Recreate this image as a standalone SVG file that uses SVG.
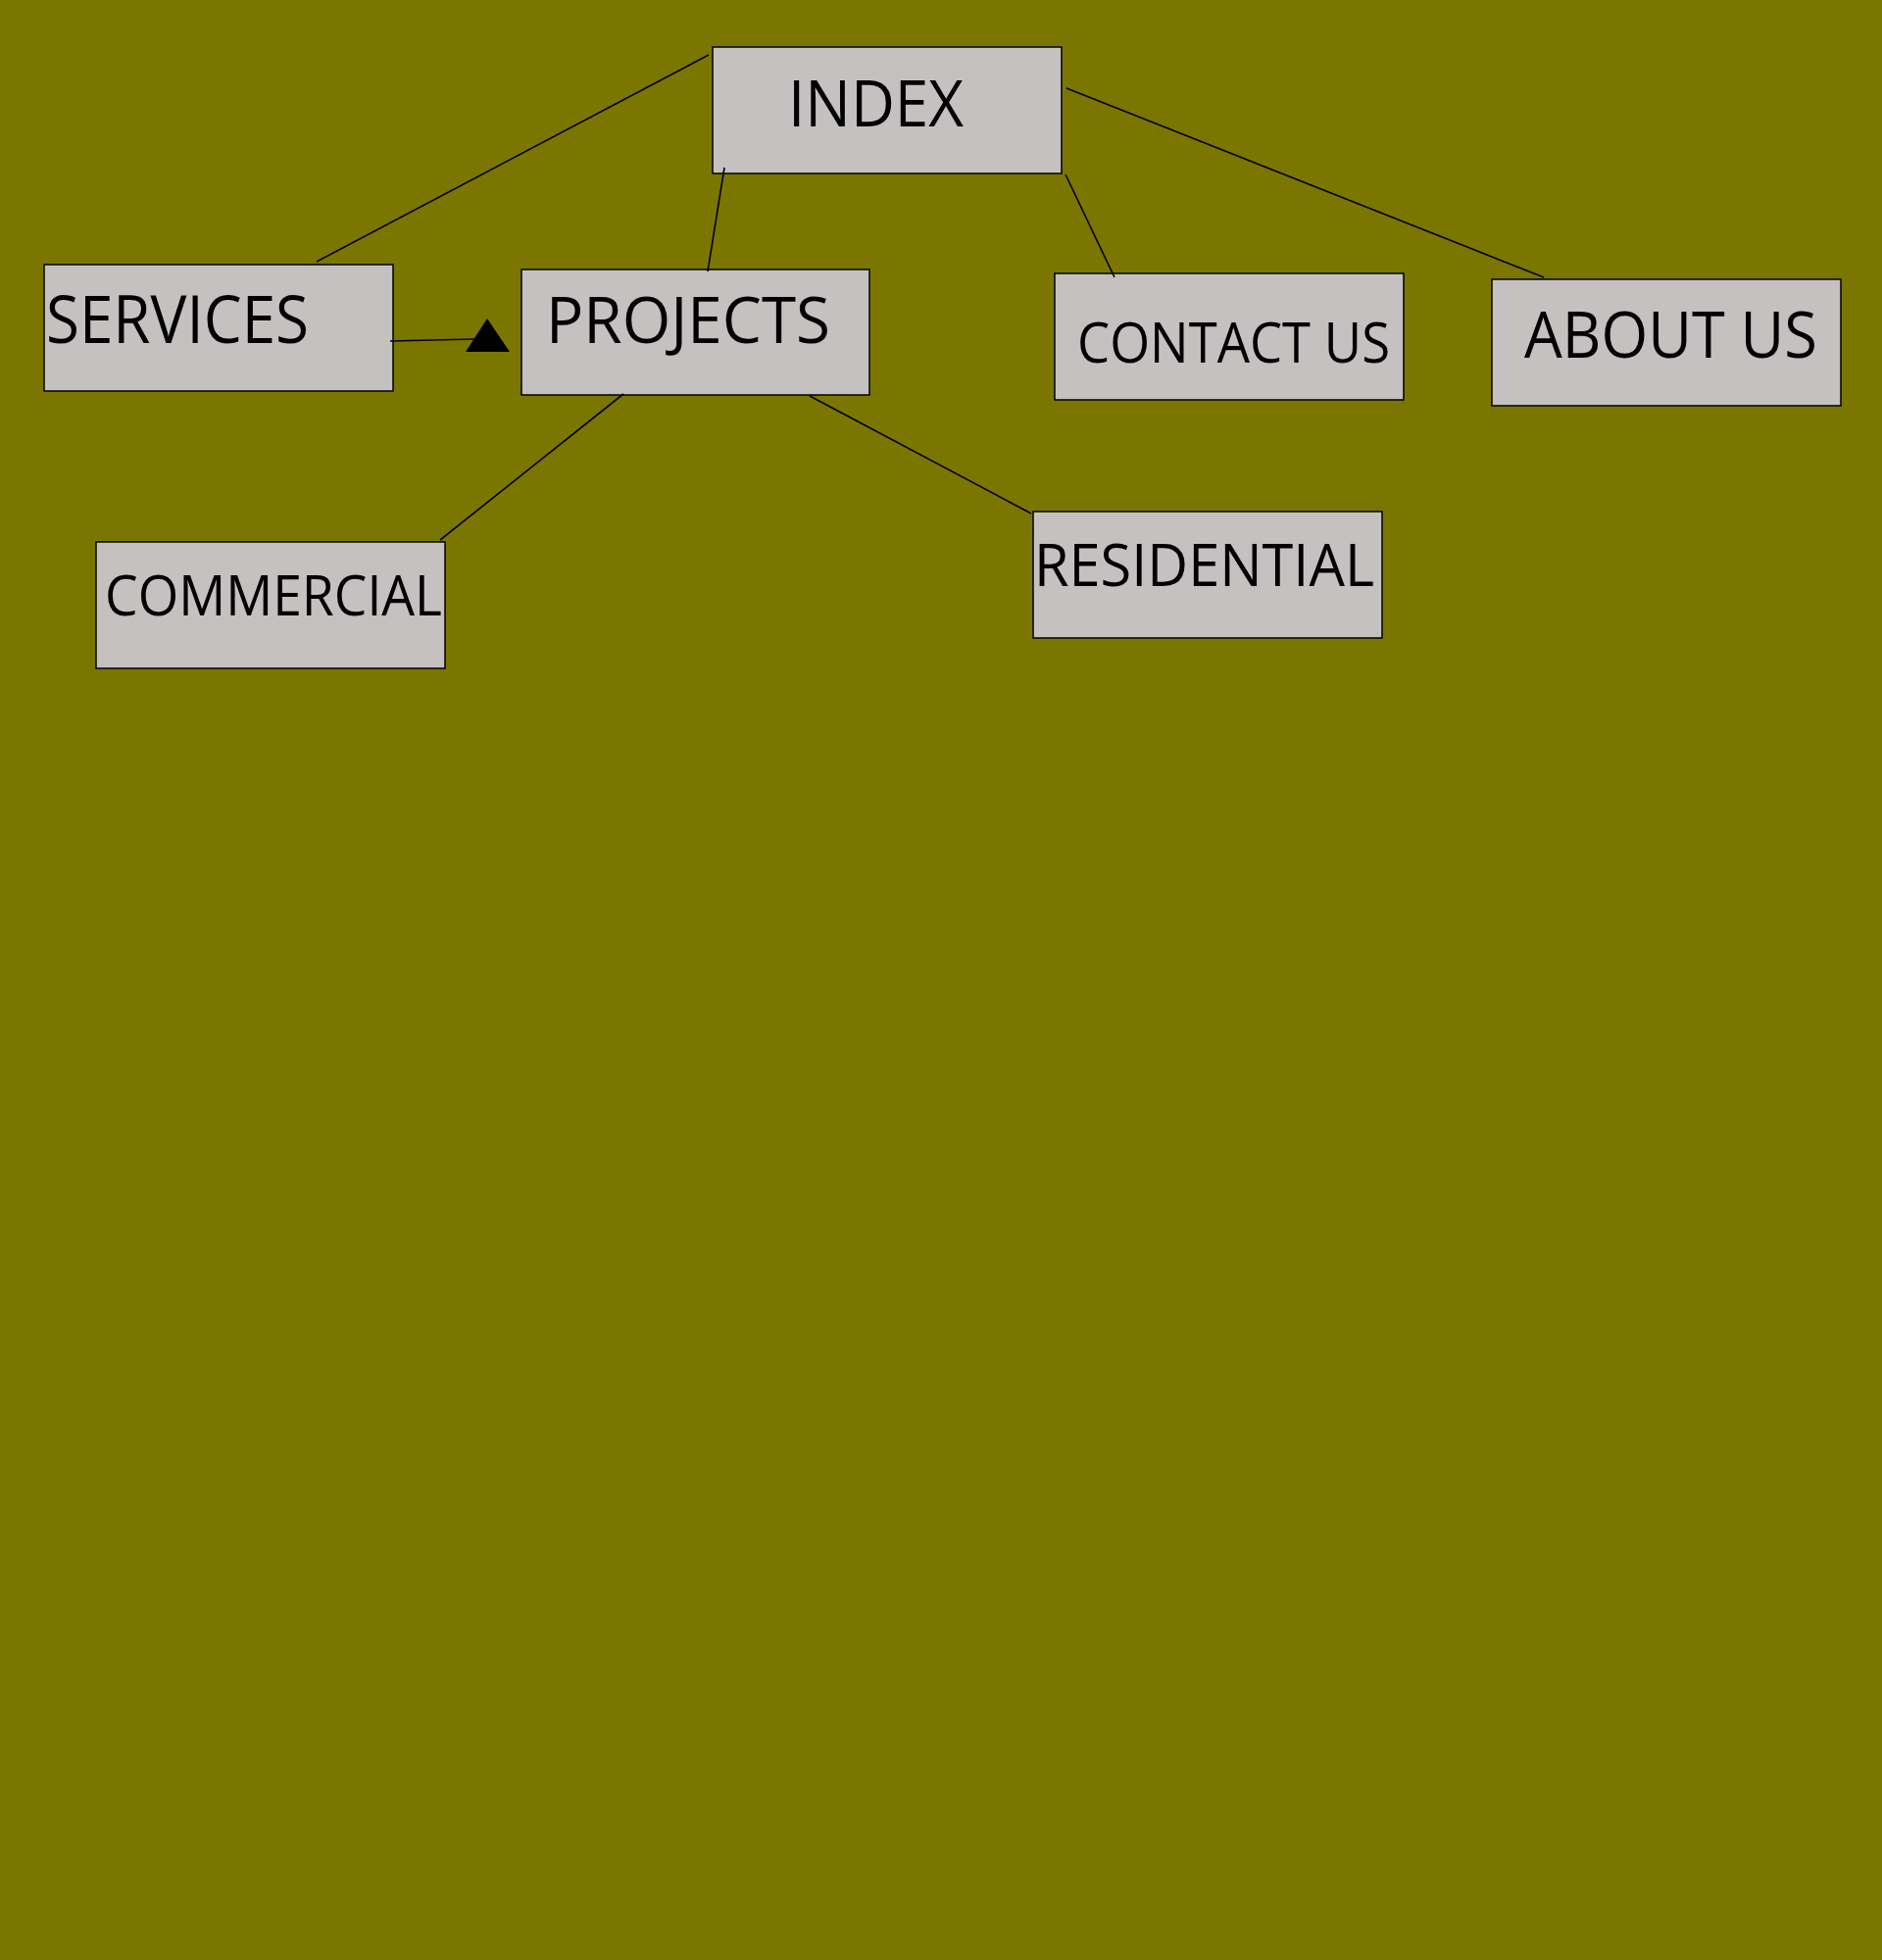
<svg xmlns="http://www.w3.org/2000/svg" width="1920" height="2000" viewBox="0 0 1920 2000">
<style>
.box{fill:#c4c1c0;stroke:#000;stroke-width:1.5}
.lbl{font-family:"Open Sans","Liberation Sans",sans-serif;fill:#000}
.ln{stroke:#000;stroke-width:1.6;fill:none}
</style>
<rect x="0" y="0" width="1920" height="2000" fill="#7a7600"/>
<g id="index">
<rect class="box" x="727" y="48" width="356" height="129"/>
<text class="lbl" x="804" y="129" font-size="66" textLength="179" lengthAdjust="spacingAndGlyphs">INDEX</text>
</g>
<g id="services">
<rect class="box" x="45" y="270" width="356" height="129"/>
<text class="lbl" x="47" y="350" font-size="67" textLength="268" lengthAdjust="spacingAndGlyphs">SERVICES</text>
</g>
<g id="projects">
<rect class="box" x="532" y="275" width="355" height="128"/>
<text class="lbl" x="557" y="350" font-size="65" textLength="290" lengthAdjust="spacingAndGlyphs">PROJECTS</text>
</g>
<g id="contact-us">
<rect class="box" x="1076" y="279" width="356" height="129"/>
<text class="lbl" x="1099" y="370" font-size="57" textLength="319" lengthAdjust="spacingAndGlyphs">CONTACT US</text>
</g>
<g id="about-us">
<rect class="box" x="1522" y="285" width="356" height="129"/>
<text class="lbl" x="1555" y="365" font-size="66" textLength="299" lengthAdjust="spacingAndGlyphs">ABOUT US</text>
</g>
<g id="commercial">
<rect class="box" x="98" y="553" width="356" height="129"/>
<text class="lbl" x="107" y="628" font-size="56" textLength="344" lengthAdjust="spacingAndGlyphs">COMMERCIAL</text>
</g>
<g id="residential">
<rect class="box" x="1054" y="522" width="356" height="129"/>
<text class="lbl" x="1055" y="598" font-size="61" textLength="347" lengthAdjust="spacingAndGlyphs">RESIDENTIAL</text>
</g>
<g id="connectors">
<line class="ln" x1="723" y1="56" x2="323" y2="267"/>
<line class="ln" x1="739" y1="171" x2="722" y2="277"/>
<line class="ln" x1="1087" y1="178" x2="1137" y2="283"/>
<line class="ln" x1="1088" y1="90" x2="1575" y2="283"/>
<line class="ln" x1="398" y1="348" x2="484" y2="346"/>
<polygon points="497,325 475,359 520,359" fill="#000"/>
<line class="ln" x1="636" y1="402" x2="449" y2="551"/>
<line class="ln" x1="826" y1="404" x2="1052" y2="524"/>
</g>
</svg>
